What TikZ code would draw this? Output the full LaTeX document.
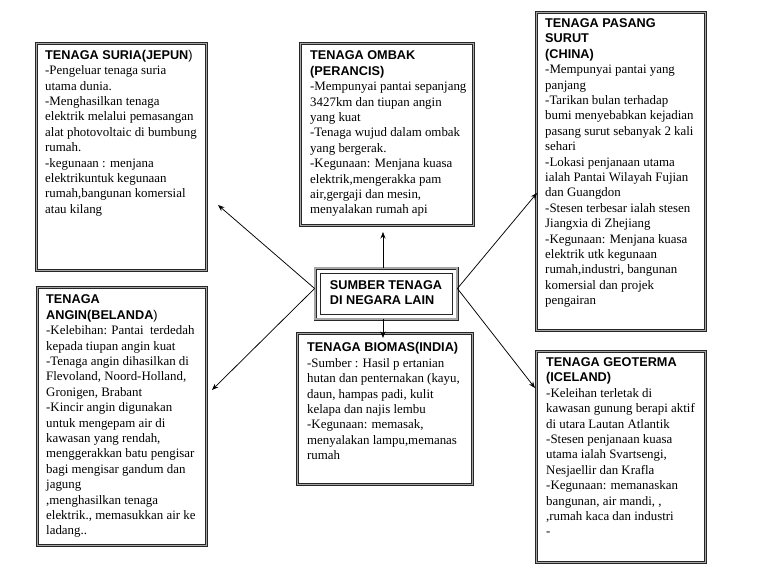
\documentclass[tikz,border=0pt]{standalone}
\usepackage{fontspec}
\setmainfont{Liberation Serif}
\setsansfont{Liberation Sans}
\usetikzlibrary{arrows.meta}
\newcommand\ttl[1]{{\sffamily\bfseries\fontsize{12.7}{15.4}\selectfont #1}}
\newcommand\ttr[1]{{\sffamily\fontsize{12.7}{15.4}\selectfont #1}}
\begin{document}
\begin{tikzpicture}[x=1pt,y=-1pt,
  box/.style={draw=black!85, double=gray!70, double distance=1.2pt, line width=0.75pt,
    inner sep=0pt, anchor=north west},
  txt/.style={anchor=north west, inner sep=0pt, align=left,
    font=\fontsize{12.9}{15.4}\selectfont},
  hubbox/.style={draw=black!85, double=gray!70, double distance=1.4pt, line width=0.8pt,
    inner sep=0pt, minimum width=142pt, minimum height=51pt, align=left,
    font=\sffamily\bfseries\fontsize{12.7}{16}\selectfont},
  conn/.style={-{Stealth[length=6.5pt,width=5pt]}, line width=0.75pt, black}]
\useasboundingbox[fill=white] (0,0) rectangle (768,576);

% boxes
\node[box, minimum width=170pt, minimum height=227pt] (suria) at (36,43) {};
\node[box, minimum width=173pt, minimum height=182pt] (ombak) at (300,43) {};
\node[box, minimum width=169pt, minimum height=318pt] (surut) at (536,12) {};
\node[box, minimum width=169pt, minimum height=258pt] (angin) at (37,287) {};
\node[box, minimum width=175pt, minimum height=151pt] (biomas) at (297,333) {};
\node[box, minimum width=169pt, minimum height=211pt] (geo) at (536,351) {};

% hub
\node[hubbox] (hub) at (386,293.5) {\raisebox{2.5pt}{\begin{tabular}{@{}l@{}}SUMBER TENAGA\\[-1pt]DI NEGARA LAIN\end{tabular}}};
\draw[line width=0.6pt, black!85] ([shift={(5.5,5.5)}]hub.north west) rectangle ([shift={(-5.5,-5.5)}]hub.south east);

% texts
\node[txt] (suriaT) at (45,49.8) {\ttl{TENAGA SURIA(JEPUN}\ttr{)}\\
-Pengeluar tenaga suria\\
utama dunia.\\
-Menghasilkan tenaga\\
elektrik melalui pemasangan\\
alat photovoltaic di bumbung\\
rumah.\\
-kegunaan : menjana\\
elektrikuntuk kegunaan\\
rumah,bangunan komersial\\
atau kilang};

\node[txt] (ombakT) at (310,50.8) {\ttl{TENAGA OMBAK}\\
\ttl{(PERANCIS)}\\
-Mempunyai pantai sepanjang\\
3427km dan tiupan angin\\
yang kuat\\
-Tenaga wujud dalam ombak\\
yang bergerak.\\
-Kegunaan: Menjana kuasa\\
elektrik,mengerakka pam\\
air,gergaji dan mesin,\\
menyalakan rumah api};

\node[txt] (surutT) at (545,18.5) {\ttl{TENAGA PASANG}\\
\ttl{SURUT}\\
\ttl{(CHINA)}\\
-Mempunyai pantai yang\\
panjang\\
-Tarikan bulan terhadap\\
bumi menyebabkan kejadian\\
pasang surut sebanyak 2 kali\\
sehari\\
-Lokasi penjanaan utama\\
ialah Pantai Wilayah Fujian\\
dan Guangdon\\
-Stesen terbesar ialah stesen\\
Jiangxia di Zhejiang\\
-Kegunaan: Menjana kuasa\\
elektrik utk kegunaan\\
rumah,industri, bangunan\\
komersial dan projek\\
pengairan};

\node[txt] (anginT) at (46,294.8) {\ttl{TENAGA}\\
\ttl{ANGIN(BELANDA}\ttr{)}\\
-Kelebihan: Pantai\ \ terdedah\\
kepada tiupan angin kuat\\
-Tenaga angin dihasilkan di\\
Flevoland, Noord-Holland,\\
Gronigen, Brabant\\
-Kincir angin digunakan\\
untuk mengepam air di\\
kawasan yang rendah,\\
menggerakkan batu pengisar\\
bagi mengisar gandum dan\\
jagung\\
,menghasilkan tenaga\\
elektrik., memasukkan air ke\\
ladang..};

\node[txt] (biomasT) at (307,342.5) {\ttl{TENAGA BIOMAS(INDIA)}\\
-Sumber : Hasil p ertanian\\
hutan dan penternakan (kayu,\\
daun, hampas padi, kulit\\
kelapa dan najis lembu\\
-Kegunaan: memasak,\\
menyalakan lampu,memanas\\
rumah};

\node[txt] (geoT) at (546,357.5) {\ttl{TENAGA GEOTERMA}\\
\ttl{(ICELAND)}\\
-Keleihan terletak di\\
kawasan gunung berapi aktif\\
di utara Lautan Atlantik\\
-Stesen penjanaan kuasa\\
utama ialah Svartsengi,\\
Nesjaellir dan Krafla\\
-Kegunaan: memanaskan\\
bangunan, air mandi, ,\\
,rumah kaca dan industri\\
-};

% arrow tips
\coordinate (tSuria) at (218,205);
\coordinate (tAngin) at (212,390);
\coordinate (tSurut) at (537,193);
\coordinate (tGeo) at (535,388);
\coordinate (tOmbak) at (383,232);
\coordinate (tBiomas) at (383,338);

\draw[conn] ([yshift=5pt]hub.west) -- (tSuria);
\draw[conn] ([yshift=5pt]hub.west) -- (tAngin);
\draw[conn] ([yshift=5pt]hub.east) -- (tSurut);
\draw[conn] ([yshift=5pt]hub.east) -- (tGeo);
\draw[conn] ([xshift=-3pt]hub.north) -- (tOmbak);
\draw[conn] ([xshift=-3pt]hub.south) -- (tBiomas);
\end{tikzpicture}
\end{document}
